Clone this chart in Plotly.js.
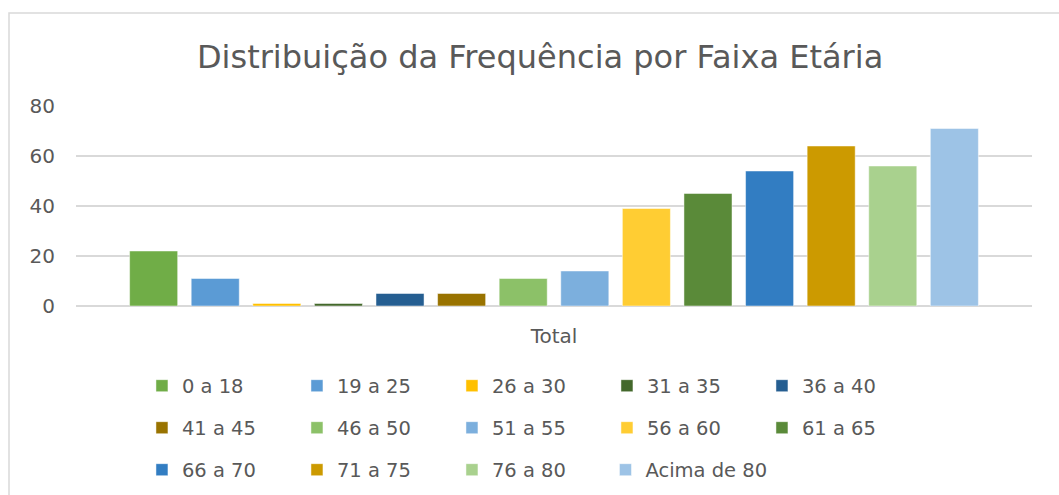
<!DOCTYPE html>
<html>
<head>
<meta charset="utf-8">
<script src="https://cdn.plot.ly/plotly-3.0.1.min.js"></script>
<style>
html,body{margin:0;padding:0;background:#fff;}
#chart{width:1059px;height:495px;}
</style>
</head>
<body>
<div id="chart"></div>
<script>
// Data
const category = ["Total"];
const ageGroups = ["0 a 18","19 a 25","26 a 30","31 a 35","36 a 40","41 a 45","46 a 50",
                   "51 a 55","56 a 60","61 a 65","66 a 70","71 a 75","76 a 80","Acima de 80"];
const frequency = [22, 11, 1, 1, 5, 5, 11, 14, 39, 45, 54, 64, 56, 71];
const barColors = ["#70AD47","#5B9BD5","#FFC000","#43682B","#255E91","#997300","#8CC168",
                   "#7CAFDD","#FFCD33","#5A8A39","#327DC2","#CC9A00","#A9D18E","#9DC3E6"];
const yTicks = [0, 20, 40, 60, 80];

const legendNames = ["legend","legend","legend","legend","legend",
                     "legend2","legend2","legend2","legend2","legend2",
                     "legend3","legend3","legend3","legend4"];

const traces = ageGroups.map((g, i) => ({
  type: "bar",
  name: g,
  x: category,
  y: [frequency[i]],
  marker: {color: barColors[i], line: {color: "rgba(255,255,255,0.6)", width: 0.8}},
  legend: legendNames[i],
  hoverinfo: "name+y"
}));

const font = "'DejaVu Sans', 'Open Sans', sans-serif";
const textColor = "#595959";
const colStep = 154.5 / 956;

function legendRow(y, col, ew) {
  return {
    orientation: "h",
    x: 0.069 + col * colStep, xanchor: "left",
    y: y, yanchor: "middle",
    entrywidth: ew || 110,
    entrywidthmode: "pixels",
    traceorder: "normal",
    font: {family: font, size: 19.5, color: textColor},
    bgcolor: "rgba(0,0,0,0)",
    itemclick: false, itemdoubleclick: false
  };
}

const layout = {
  width: 1059,
  height: 495,
  margin: {l: 76, r: 27, t: 106, b: 189, autoexpand: false},
  paper_bgcolor: "#ffffff",
  plot_bgcolor: "#ffffff",
  font: {family: font, color: textColor},
  title: {
    text: "Distribuição da Frequência por Faixa Etária",
    font: {family: font, size: 32, color: textColor},
    xref: "container", x: 0.51, xanchor: "center",
    yref: "container", y: 1 - 57/495, yanchor: "middle"
  },
  barmode: "group",
  bargap: 0.098,
  bargroupgap: 0.22,
  xaxis: {
    type: "category",
    showgrid: false,
    showline: false,
    ticks: "",
    ticklabelstandoff: 16,
    tickfont: {family: font, size: 20, color: textColor}
  },
  yaxis: {
    range: [0, 80],
    tickvals: yTicks,
    ticktext: yTicks.map(String),
    showgrid: true,
    gridcolor: "#d9d9d9",
    gridwidth: 1.3,
    zeroline: true,
    zerolinecolor: "#d9d9d9",
    zerolinewidth: 1.3,
    showline: false,
    ticks: "",
    ticklabelstandoff: 20,
    tickfont: {family: font, size: 20, color: textColor}
  },
  showlegend: true,
  legend: legendRow((306 - 386) / 200, 0),
  legend2: legendRow((306 - 428) / 200, 0),
  legend3: legendRow((306 - 470) / 200, 0),
  legend4: legendRow((306 - 470) / 200, 3, 160),
  shapes: [{
    type: "rect", xref: "paper", yref: "paper",
    x0: (9 - 76) / 956, x1: (1070 - 76) / 956,
    y0: (306 - 505) / 200, y1: (306 - 13) / 200,
    line: {color: "#d9d9d9", width: 1.5},
    fillcolor: "rgba(0,0,0,0)",
    layer: "below"
  }]
};

Plotly.newPlot("chart", traces, layout, {displayModeBar: false, staticPlot: true});
</script>
</body>
</html>
